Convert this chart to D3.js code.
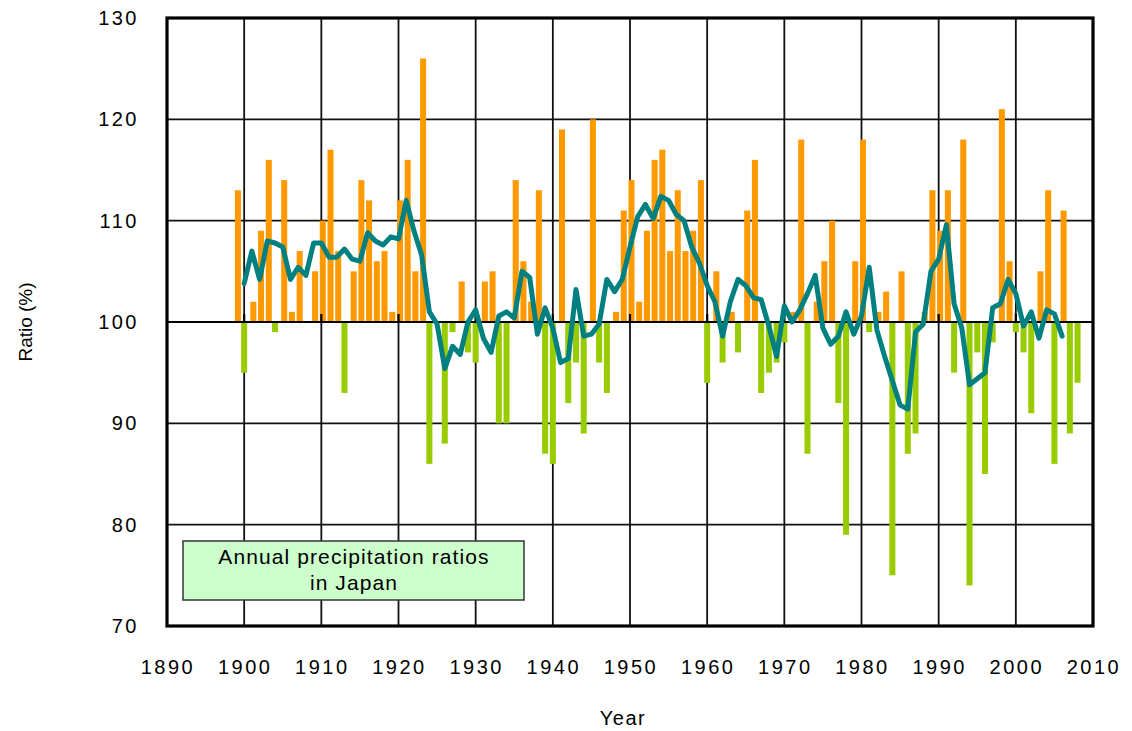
<!DOCTYPE html>
<html>
<head>
<meta charset="utf-8">
<script src="https://cdn.jsdelivr.net/npm/d3@7"></script>
<style>
  body { margin: 0; background: #fff; }
  text { font-family: "Liberation Sans", Arial, sans-serif; fill: #000; }
</style>
</head>
<body>
<div id="chart"></div>
<script>
// Annual precipitation ratios in Japan (% of normal), 1898-2008
const firstYear = 1898;
const ratios = [
  100, 113, 95, 102, 109, 116, 99, 114, 101, 107,   // 1898-1907
  100, 105, 110, 117, 107, 93, 105, 114, 112, 106,  // 1908-1917
  107, 101, 112, 116, 105, 126, 86, 100, 88, 99,    // 1918-1927
  104, 97, 96, 104, 105, 90, 90, 114, 106, 102,     // 1928-1937
  113, 87, 86, 119, 92, 96, 89, 120, 96, 93,        // 1938-1947
  101, 111, 114, 102, 109, 116, 117, 107, 113, 107, // 1948-1957
  109, 114, 94, 105, 96, 101, 97, 111, 116, 93,     // 1958-1967
  95, 96, 98, 101, 118, 87, 102, 106, 110, 92,      // 1968-1977
  79, 106, 118, 99, 101, 103, 75, 105, 87, 89,      // 1978-1987
  101, 113, 109, 113, 95, 118, 74, 97, 85, 98,      // 1988-1997
  121, 106, 99, 97, 91, 105, 113, 86, 111, 89,      // 1998-2007
  94                                                // 2008
];

// 5-year running mean, 1900-2006
const meanFirstYear = 1900;
const runningMean = [
  103.8, 107.0, 104.2, 108.0, 107.8, 107.4, 104.2, 105.4, 104.6, 107.8, // 1900-1909
  107.8, 106.4, 106.4, 107.2, 106.2, 106.0, 108.8, 108.0, 107.6, 108.4, // 1910-1919
  108.2, 112.0, 109.0, 106.6, 101.0, 99.8, 95.4, 97.6, 96.8, 100.0,     // 1920-1929
  101.2, 98.4, 97.0, 100.6, 101.0, 100.4, 105.0, 104.4, 98.8, 101.4,    // 1930-1939
  99.4, 96.0, 96.4, 103.2, 98.6, 98.8, 99.8, 104.2, 103.0, 104.2,       // 1940-1949
  107.4, 110.4, 111.6, 110.2, 112.4, 112.0, 110.6, 110.0, 107.4, 105.8, // 1950-1959
  103.6, 102.0, 98.6, 102.0, 104.2, 103.6, 102.4, 102.2, 99.6, 96.6,    // 1960-1969
  101.6, 100.0, 101.2, 102.8, 104.6, 99.4, 97.8, 98.6, 101.0, 98.8,     // 1970-1979
  100.6, 105.4, 99.2, 96.6, 94.2, 91.8, 91.4, 99.0, 99.8, 105.0,        // 1980-1989
  106.2, 109.6, 101.8, 99.4, 93.8, 94.4, 95.0, 101.4, 101.8, 104.2,     // 1990-1999
  102.8, 99.6, 101.0, 98.4, 101.2, 100.8, 98.6                          // 2000-2006
];

const xTicks = [1890, 1900, 1910, 1920, 1930, 1940, 1950, 1960, 1970, 1980, 1990, 2000, 2010];
const yTicks = [70, 80, 90, 100, 110, 120, 130];
const legendLines = ["Annual precipitation ratios", "in Japan"];

const width = 1132, height = 731;
const plot = { left: 167, right: 1093, top: 18, bottom: 626 };

const svg = d3.select("#chart").append("svg")
  .attr("width", width)
  .attr("height", height);

const x = d3.scaleLinear().domain([1890, 2010]).range([plot.left, plot.right]);
const y = d3.scaleLinear().domain([70, 130]).range([plot.bottom, plot.top]);

const bars = ratios.map((v, i) => ({ year: firstYear + i, value: v }));
const means = runningMean.map((v, i) => ({ year: meanFirstYear + i, value: v }));

// gridlines
const grid = svg.append("g");
grid.selectAll(".hgrid")
  .data(yTicks.filter(t => t > 70 && t < 130))
  .enter().append("line")
  .attr("x1", plot.left).attr("x2", plot.right)
  .attr("y1", d => y(d)).attr("y2", d => y(d))
  .attr("stroke", "#111").attr("stroke-width", 1.8);
grid.selectAll(".vgrid")
  .data(xTicks.filter(t => t > 1890 && t < 2010))
  .enter().append("line")
  .attr("x1", d => x(d)).attr("x2", d => x(d))
  .attr("y1", plot.top).attr("y2", plot.bottom)
  .attr("stroke", "#111").attr("stroke-width", 1.8);

// bars: above normal orange, below normal green
const barW = x(1890.78) - x(1890);
svg.append("g").selectAll("rect")
  .data(bars.filter(d => d.value !== 100))
  .enter().append("rect")
  .attr("x", d => d.value > 100 ? x(d.year + 0.19) - barW / 2 : x(d.year) - barW / 2)
  .attr("width", barW)
  .attr("y", d => y(Math.max(d.value, 100)))
  .attr("height", d => Math.abs(y(d.value) - y(100)))
  .attr("fill", d => d.value > 100 ? "#ff9900" : "#99cc00");

// baseline at 100 with decade ticks
svg.append("line")
  .attr("x1", plot.left).attr("x2", plot.right)
  .attr("y1", y(100)).attr("y2", y(100))
  .attr("stroke", "#000").attr("stroke-width", 2);
svg.append("g").selectAll("line")
  .data(xTicks.filter(t => t > 1890 && t < 2010))
  .enter().append("line")
  .attr("x1", d => x(d)).attr("x2", d => x(d))
  .attr("y1", y(100) - 8).attr("y2", y(100))
  .attr("stroke", "#000").attr("stroke-width", 2.2);

// running mean line
svg.append("path")
  .datum(means)
  .attr("fill", "none")
  .attr("stroke", "#008080")
  .attr("stroke-width", 5)
  .attr("stroke-linejoin", "round")
  .attr("stroke-linecap", "round")
  .attr("d", d3.line().x(d => x(d.year)).y(d => y(d.value)));

// plot frame
svg.append("rect")
  .attr("x", plot.left).attr("y", plot.top)
  .attr("width", plot.right - plot.left)
  .attr("height", plot.bottom - plot.top)
  .attr("fill", "none")
  .attr("stroke", "#000")
  .attr("stroke-width", 3.2);

// tick labels
svg.append("g").selectAll("text")
  .data(yTicks)
  .enter().append("text")
  .attr("x", 139)
  .attr("y", d => y(d))
  .attr("dy", "0.35em")
  .attr("text-anchor", "end")
  .style("font-size", "20px")
  .style("letter-spacing", "2.5px")
  .text(d => d);

svg.append("g").selectAll("text")
  .data(xTicks)
  .enter().append("text")
  .attr("x", d => x(d) + 1)
  .attr("y", 667)
  .attr("dy", "0.35em")
  .attr("text-anchor", "middle")
  .style("font-size", "20px")
  .style("letter-spacing", "2.5px")
  .text(d => d);

// axis titles
svg.append("text")
  .attr("x", 623).attr("y", 718)
  .attr("dy", "0.35em")
  .attr("text-anchor", "middle")
  .style("font-size", "20px")
  .style("letter-spacing", "1.5px")
  .text("Year");

svg.append("text")
  .attr("transform", "translate(25,322) rotate(-90)")
  .attr("dy", "0.35em")
  .attr("text-anchor", "middle")
  .style("font-size", "19px")
  .text("Ratio (%)");

// legend box
const legend = svg.append("g");
legend.append("rect")
  .attr("x", 183).attr("y", 541)
  .attr("width", 341).attr("height", 59)
  .attr("fill", "#ccffcc")
  .attr("stroke", "#333")
  .attr("stroke-width", 1.5);
legend.selectAll("text")
  .data(legendLines)
  .enter().append("text")
  .attr("x", 354)
  .attr("y", (d, i) => 557 + i * 26)
  .attr("dy", "0.35em")
  .attr("text-anchor", "middle")
  .style("font-size", "21px")
  .style("letter-spacing", "1.1px")
  .text(d => d);
</script>
</body>
</html>
